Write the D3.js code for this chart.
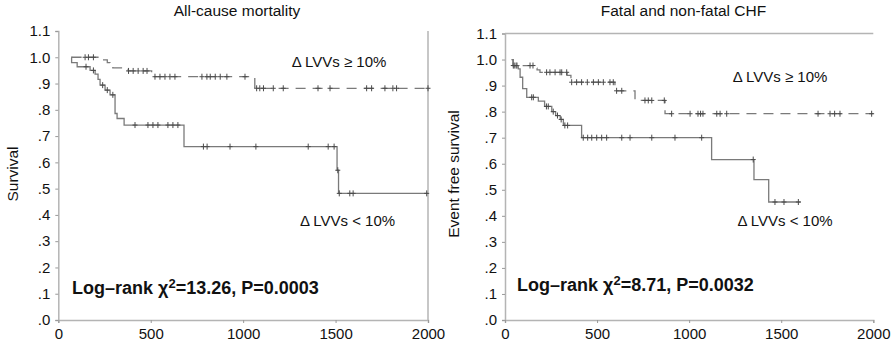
<!DOCTYPE html>
<html><head><meta charset="utf-8">
<script src="https://cdn.jsdelivr.net/npm/d3@7"></script>
<style>body{margin:0;background:#fff}svg{display:block}text{font-family:"Liberation Sans",Arial,sans-serif;fill:#111}</style>
</head><body><svg id="c" width="895" height="347"></svg>
<script>
// ---- data ----
const xTicks = [0, 500, 1000, 1500, 2000];
const xTickLabels = ["0", "500", "1000", "1500", "2000"];
const yTicks = [0, 0.1, 0.2, 0.3, 0.4, 0.5, 0.6, 0.7, 0.8, 0.9, 1.0, 1.1];
const yTickLabels = [".0", ".1", ".2", ".3", ".4", ".5", ".6", ".7", ".8", ".9", "1.0", "1.1"];
const titles = ["All-cause mortality", "Fatal and non-fatal CHF"];
const yLabels = ["Survival", "Event free survival"];
const stats = [["Log–rank χ", "2", "=13.26, P=0.0003"], ["Log–rank χ", "2", "=8.71, P=0.0032"]];
const groupLabels = ["Δ LVVs ≥ 10%", "Δ LVVs < 10%"];

// Panel A: all-cause mortality
const aHighTimes = [72, 225, 265, 280, 295, 378, 505, 1063];
const aHighSurv  = [1.0, 0.99, 0.98, 0.97, 0.96, 0.948, 0.926, 0.882];
const aHighEnd = 2000;
const aHighCens = [145, 163, 190, 380, 405, 432, 459, 480, 523, 550, 577, 604, 631, 777, 804, 822, 849, 876, 912, 1010, 1073, 1090, 1110, 1163, 1217, 1405, 1470, 1668, 1695, 1767, 1810, 1830, 2000];
const aLowTimes = [70, 72, 102, 172, 199, 215, 226, 253, 280, 307, 318, 356, 680, 1508, 1516];
const aLowSurv  = [1.0, 0.98, 0.964, 0.95, 0.936, 0.916, 0.894, 0.875, 0.857, 0.786, 0.767, 0.742, 0.66, 0.57, 0.482];
const aLowEnd = 2000;
const aLowCens = [150, 190, 240, 265, 295, 415, 485, 512, 539, 593, 620, 647, 785, 805, 929, 1069, 1352, 1460, 1492, 1512, 1520, 1577, 1595, 1993];

// Panel B: fatal and non-fatal CHF
const bHighTimes = [36, 43, 163, 174, 190, 337, 358, 597, 706, 869];
const bHighSurv  = [1.0, 0.977, 0.967, 0.96, 0.951, 0.939, 0.913, 0.88, 0.843, 0.792];
const bHighEnd = 2000;
const bHighCens = [45, 65, 136, 152, 226, 244, 272, 299, 308, 335, 362, 389, 416, 447, 480, 507, 534, 570, 588, 606, 634, 760, 778, 797, 865, 905, 1005, 1048, 1062, 1075, 1150, 1168, 1204, 1700, 1765, 1790, 1819, 1991];
const bLowTimes = [36, 45, 72, 82, 96, 118, 181, 215, 254, 275, 300, 317, 416, 1122, 1352, 1432];
const bLowSurv  = [1.0, 0.977, 0.964, 0.932, 0.888, 0.855, 0.84, 0.82, 0.80, 0.785, 0.77, 0.747, 0.70, 0.616, 0.539, 0.453];
const bLowEnd = 1606;
const bLowCens = [50, 60, 145, 154, 225, 235, 262, 285, 305, 325, 340, 425, 449, 471, 498, 525, 552, 634, 679, 797, 923, 1068, 1348, 1466, 1515, 1593];

// ---- drawing ----
const svg = d3.select("#c");
const panels = [
  {x0: 58.3, x1: 428, y0: 320, y1: 31, frame: "right", tx: 237, lblX: 13.5,
   hi: [aHighTimes, aHighSurv, aHighEnd, aHighCens], lo: [aLowTimes, aLowSurv, aLowEnd, aLowCens],
   hiLbl: [339, 63], loLbl: [347.5, 221.7], stat: [72, 287.5]},
  {x0: 505, x1: 873.3, y0: 320, y1: 33.5, frame: "top", tx: 683.5, lblX: 455,
   hi: [bHighTimes, bHighSurv, bHighEnd, bHighCens], lo: [bLowTimes, bLowSurv, bLowEnd, bLowCens],
   hiLbl: [780, 78.3], loLbl: [785, 222.3], stat: [517, 285]}
];
const axisCol = "#b4b4b4", curveCol = "#7a7a7a", censCol = "#4a4a4a";

panels.forEach((p, i) => {
  const x = d3.scaleLinear().domain([0, 2000]).range([p.x0, p.x1]);
  const y = d3.scaleLinear().domain([0, 1.1]).range([p.y0, p.y1]);
  const g = svg.append("g");

  if (p.frame === "right") {
    g.append("line").attr("x1", x(2000)).attr("x2", x(2000)).attr("y1", y(1.1)).attr("y2", y(0))
      .attr("stroke", axisCol).attr("stroke-width", 1.5);
  } else {
    g.append("line").attr("x1", x(0)).attr("x2", x(2000)).attr("y1", y(1.1)).attr("y2", y(1.1))
      .attr("stroke", axisCol).attr("stroke-width", 1.5);
  }

  const yAxis = d3.axisLeft(y).tickValues(yTicks).tickSize(3).tickPadding(5)
    .tickFormat((d, k) => yTickLabels[k]);
  const ya = g.append("g").attr("transform", `translate(${x(0)},0)`).call(yAxis);
  const xAxis = d3.axisBottom(x).tickValues(xTicks).tickSize(3).tickPadding(5)
    .tickFormat((d, k) => xTickLabels[k]);
  const xa = g.append("g").attr("transform", `translate(0,${y(0)})`).call(xAxis);
  [ya, xa].forEach(a => {
    a.select(".domain").attr("stroke", axisCol).attr("stroke-width", 1.5);
    a.selectAll(".tick line").attr("stroke", "#999");
    a.selectAll(".tick text").attr("font-size", 15).attr("fill", "#111")
      .style("font-family", '"Liberation Sans",Arial,sans-serif');
  });

  g.append("text").attr("x", p.tx).attr("y", 12).attr("text-anchor", "middle")
    .attr("dominant-baseline", "middle").attr("font-size", 15.5).text(titles[i]);
  g.append("text").attr("transform", `translate(${p.lblX},174) rotate(-90)`)
    .attr("text-anchor", "middle").attr("dominant-baseline", "middle")
    .attr("font-size", 15.5).text(yLabels[i]);

  const drawCurve = (series, dashed) => {
    const [times, surv, end, cens] = series;
    const pts = times.map((t, k) => [t, surv[k]]);
    pts.push([end, surv[surv.length - 1]]);
    const line = d3.line().x(d => x(d[0])).y(d => y(d[1])).curve(d3.curveStepAfter);
    g.append("path").attr("d", line(pts)).attr("fill", "none")
      .attr("stroke", curveCol).attr("stroke-width", 1.3)
      .attr("stroke-dasharray", dashed ? "10,7" : null);
    const survAt = t => { let v = surv[0]; times.forEach((tt, k) => { if (tt <= t) v = surv[k]; }); return v; };
    g.selectAll(null).data(cens).enter().append("line")
      .attr("x1", d => x(d)).attr("x2", d => x(d))
      .attr("y1", d => y(survAt(d)) - 3).attr("y2", d => y(survAt(d)) + 3)
      .attr("stroke", censCol).attr("stroke-width", 1);
    g.selectAll(null).data(cens).enter().append("line")
      .attr("x1", d => x(d) - 2.5).attr("x2", d => x(d) + 2.5)
      .attr("y1", d => y(survAt(d))).attr("y2", d => y(survAt(d)))
      .attr("stroke", censCol).attr("stroke-width", 1);
  };
  drawCurve(p.hi, true);
  drawCurve(p.lo, false);

  g.append("text").attr("x", p.hiLbl[0]).attr("y", p.hiLbl[1]).attr("text-anchor", "middle")
    .attr("dominant-baseline", "middle").attr("font-size", 15).text(groupLabels[0]);
  g.append("text").attr("x", p.loLbl[0]).attr("y", p.loLbl[1]).attr("text-anchor", "middle")
    .attr("dominant-baseline", "middle").attr("font-size", 15).text(groupLabels[1]);
  const st = g.append("text").attr("x", p.stat[0]).attr("y", p.stat[1] + 6)
    .attr("font-size", 18).attr("font-weight", "bold");
  st.append("tspan").text(stats[i][0]);
  st.append("tspan").attr("font-size", 13).attr("dy", -6).text(stats[i][1]);
  st.append("tspan").attr("dy", 6).text(stats[i][2]);
});
</script></body></html>
